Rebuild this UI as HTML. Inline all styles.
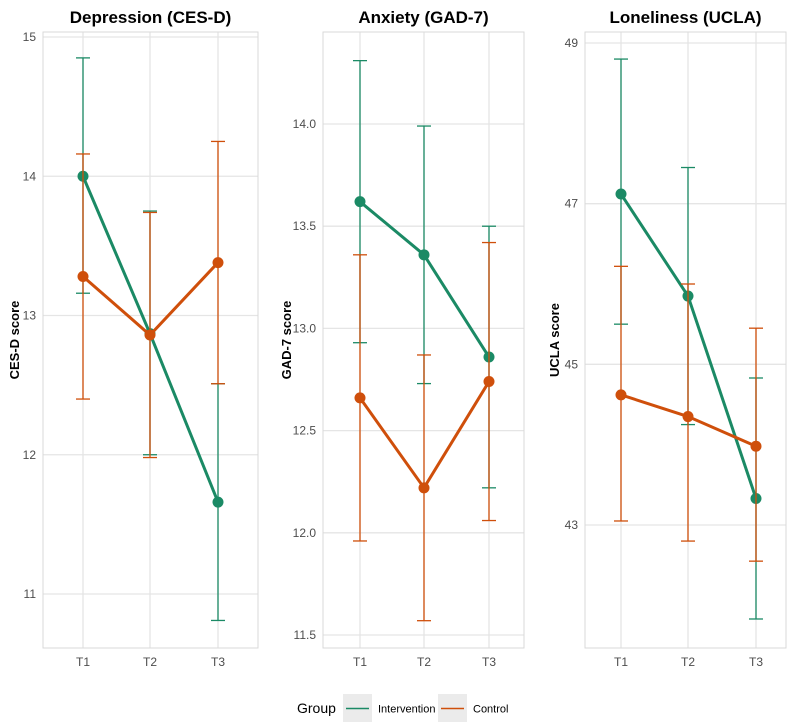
<!DOCTYPE html>
<html><head><meta charset="utf-8"><style>
body{margin:0;background:#fff;font-family:"Liberation Sans",sans-serif}
</style></head><body>
<svg id="c" width="800" height="722" xmlns="http://www.w3.org/2000/svg" font-family="Liberation Sans, sans-serif"></svg>
<script>
const times=["T1","T2","T3"];
const titles=["Depression (CES-D)","Anxiety (GAD-7)","Loneliness (UCLA)"];
const ytitles=["CES-D score","GAD-7 score","UCLA score"];
const depInt=[14.0,12.87,11.66], depIntLo=[13.16,12.0,10.81], depIntHi=[14.85,13.75,12.51];
const depCtl=[13.28,12.86,13.38], depCtlLo=[12.40,11.98,12.51], depCtlHi=[14.16,13.74,14.25];
const anxInt=[13.62,13.36,12.86], anxIntLo=[12.93,12.73,12.22], anxIntHi=[14.31,13.99,13.50];
const anxCtl=[12.66,12.22,12.74], anxCtlLo=[11.96,11.57,12.06], anxCtlHi=[13.36,12.87,13.42];
const uclInt=[47.12,45.85,43.33], uclIntLo=[45.5,44.25,41.83], uclIntHi=[48.8,47.45,44.83];
const uclCtl=[44.62,44.35,43.98], uclCtlLo=[43.05,42.8,42.55], uclCtlHi=[46.22,46.0,45.45];
const depTicks=[11,12,13,14,15], anxTicks=[11.5,12.0,12.5,13.0,13.5,14.0], uclTicks=[43,45,47,49];
const G="#1b8a65", O="#cf4f0b";
const panels=[
 {x0:43,x1:258,xs:[83,150,218],v0:15,y0:37,v1:11,y1:594,ticks:depTicks,dec:0,tx:14,
  s:[[depInt,depIntLo,depIntHi,G],[depCtl,depCtlLo,depCtlHi,O]]},
 {x0:323,x1:524,xs:[360,424,489],v0:14,y0:124,v1:11.5,y1:635,ticks:anxTicks,dec:1,tx:286,
  s:[[anxInt,anxIntLo,anxIntHi,G],[anxCtl,anxCtlLo,anxCtlHi,O]]},
 {x0:585,x1:786,xs:[621,688,756],v0:49,y0:43,v1:43,y1:525,ticks:uclTicks,dec:0,tx:554,
  s:[[uclInt,uclIntLo,uclIntHi,G],[uclCtl,uclCtlLo,uclCtlHi,O]]}
];
const svg=document.getElementById('c');const NS="http://www.w3.org/2000/svg";
function mk(t,a,p){const e=document.createElementNS(NS,t);for(const k in a)e.setAttribute(k,a[k]);(p||svg).appendChild(e);return e;}
panels.forEach((p,i)=>{
 const y=v=>p.y0+(v-p.v0)*(p.y1-p.y0)/(p.v1-p.v0);
 const g=mk('g',{});
 
 
 const top=32,bot=648;
 for(let k=0;k<p.ticks.length;k++){
  const ty=y(p.ticks[k]);
  if(ty>=top&&ty<=bot) mk('line',{x1:p.x0,x2:p.x1,y1:ty,y2:ty,stroke:"#e5e5e5","stroke-width":1.3},g);
  const t=mk('text',{x:p.x0-7,y:ty+4,"text-anchor":"end","font-size":12,fill:"#4d4d4d"},g);
  t.textContent=p.ticks[k].toFixed(p.dec);
  
  
 }
 p.xs.forEach((xx,j)=>{
  mk('line',{x1:xx,x2:xx,y1:top,y2:bot,stroke:"#e5e5e5","stroke-width":1.3},g);
  const t=mk('text',{x:xx,y:bot+18,"text-anchor":"middle","font-size":12,fill:"#4d4d4d"},g);
  t.textContent=times[j];
  
  
 });
 mk('rect',{x:p.x0,y:top,width:p.x1-p.x0,height:bot-top,fill:"none",stroke:"#d9d9d9","stroke-width":1},g);
 const tt=mk('text',{x:(p.x0+p.x1)/2,y:23,"text-anchor":"middle","font-size":17,"font-weight":"bold"},g);
 tt.textContent=titles[i];
 
 
 const yt=mk('text',{x:0,y:0,"text-anchor":"middle","font-size":13,"font-weight":"bold",transform:`translate(${p.tx+5},${(top+bot)/2}) rotate(-90)`},g);
 yt.textContent=ytitles[i];
 
 
 p.s.forEach(([m,lo,hi,c])=>{
  m.forEach((v,j)=>{
   const xx=p.xs[j];
   const e=mk('g',{stroke:c,"stroke-width":1.3},g);
   
   
   mk('line',{x1:xx,x2:xx,y1:y(lo[j]),y2:y(hi[j])},e);
   mk('line',{x1:xx-7,x2:xx+7,y1:y(lo[j]),y2:y(lo[j])},e);
   mk('line',{x1:xx-7,x2:xx+7,y1:y(hi[j]),y2:y(hi[j])},e);
  });
  const l=mk('polyline',{points:m.map((v,j)=>p.xs[j]+','+y(v)).join(' '),fill:"none",stroke:c,"stroke-width":3},g);
  
  
  m.forEach((v,j)=>{
   const d=mk('circle',{cx:p.xs[j],cy:y(v),r:5.5,fill:c},g);
   
   
  });
 });
});
const lg=mk('g',{});


const gt=mk('text',{x:297,y:713,"font-size":14},lg);gt.textContent="Group";
[["Intervention",343,G],["Control",438,O]].forEach(([n,x,c])=>{
 const e=mk('g',{},lg);
 
 
 mk('rect',{x:x,y:694,width:29,height:29,fill:"#ebebeb"},e);
 mk('line',{x1:x+3,x2:x+26,y1:708.5,y2:708.5,stroke:c,"stroke-width":1.5},e);
 const t=mk('text',{x:x+35,y:712.5,"font-size":11},e);t.textContent=n;
});
</script>
</body></html>
